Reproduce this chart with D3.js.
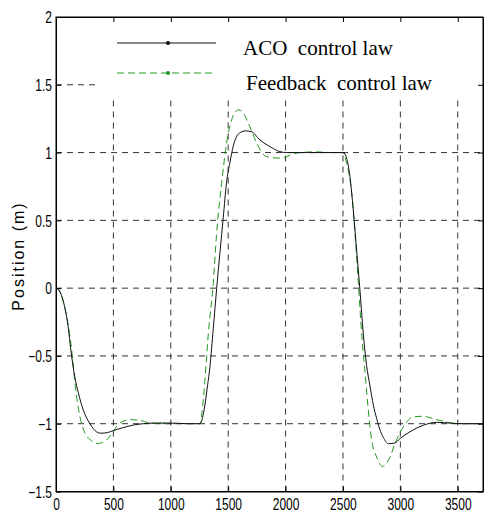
<!DOCTYPE html>
<html>
<head>
<meta charset="utf-8">
<script src="https://cdn.jsdelivr.net/npm/d3@7"></script>
<style>
  body { margin: 0; background: #fff; }
  svg { display: block; }
</style>
</head>
<body>
<div id="chart"></div>
<script>
// time axis (samples) and responses
const acoTime = [0, 30, 64, 100, 136, 165, 194, 238, 296, 354, 390, 450, 500, 580, 673, 760, 850, 1000, 1150, 1254,
  1290, 1320, 1341, 1370, 1400, 1429, 1457, 1486, 1516, 1545, 1574, 1610, 1650, 1700, 1777, 1864, 1951, 2009,
  2200, 2400, 2502, 2532, 2561, 2590, 2619, 2648, 2677, 2706, 2735, 2764, 2793, 2820, 2851, 2895, 2953, 2996,
  3083, 3199, 3316, 3432, 3550, 3720];
const acoPos = [0, -0.02, -0.1, -0.25, -0.5, -0.66, -0.77, -0.9, -1.0, -1.06, -1.07, -1.065, -1.05, -1.03, -1.01,
  -1.0, -0.995, -0.995, -1.0, -1.0,
  -0.9, -0.72, -0.58, -0.3, 0.0, 0.27, 0.52, 0.78, 0.93, 1.05, 1.12, 1.15, 1.16, 1.155, 1.093, 1.044, 1.007, 1.0,
  1.0, 1.0, 1.0, 0.958, 0.822, 0.576, 0.28, -0.015, -0.335, -0.57, -0.72, -0.86, -0.96, -1.04, -1.10, -1.147,
  -1.142, -1.11, -1.06, -1.012, -0.99, -0.995, -1.0, -1.0];

const fbTime = [0, 30, 93, 137, 165, 209, 253, 300, 354, 400, 441, 490, 528, 590, 645, 732, 819, 950, 1100, 1254,
  1280, 1300, 1327, 1370, 1399, 1443, 1486, 1530, 1560, 1595, 1632, 1690, 1748, 1835, 1966, 2050, 2125, 2270,
  2400, 2500, 2532, 2576, 2605, 2634, 2663, 2692, 2721, 2750, 2793, 2845, 2895, 2967, 3025, 3112, 3199, 3286,
  3373, 3490, 3720];
const fbPos = [0, -0.02, -0.21, -0.46, -0.70, -0.95, -1.07, -1.12, -1.147, -1.14, -1.12, -1.07, -1.02, -0.98,
  -0.97, -0.975, -0.995, -1.0, -1.0, -1.0,
  -0.85, -0.65, -0.335, 0.035, 0.40, 0.773, 1.07, 1.24, 1.30, 1.315, 1.29, 1.19, 1.07, 0.97, 0.958, 0.985, 1.0,
  1.005, 1.0, 1.0, 0.92, 0.70, 0.40, 0.035, -0.335, -0.62, -0.90, -1.12, -1.245, -1.315, -1.27, -1.12, -1.024,
  -0.95, -0.945, -0.963, -0.982, -1.0, -1.0];

const xTicks = [0, 500, 1000, 1500, 2000, 2500, 3000, 3500];
const yTicks = [-1.5, -1, -0.5, 0, 0.5, 1, 1.5, 2];
const legendLabels = ["ACO  control law", "Feedback  control law"];
const yLabel = "Position (m)";

function plotPosition(containerId = "chart") {
  d3.select(`#${containerId}`).selectAll("*").remove();

  const margin = {top: 17, right: 1, bottom: 24.5, left: 56};
  const width = 484 - margin.left - margin.right;
  const height = 516 - margin.top - margin.bottom;

  const svg = d3.select(`#${containerId}`)
    .append("svg")
    .attr("width", 484)
    .attr("height", 516)
    .append("g")
    .attr("transform", `translate(${margin.left},${margin.top})`);

  const x = d3.scaleLinear().domain([0, 3720]).range([0, width]);
  const y = d3.scaleLinear().domain([-1.5, 2]).range([height, 0]);

  // dashed grid (inner lines only)
  const grid = svg.append("g").attr("stroke", "#333").attr("stroke-width", 1)
    .attr("stroke-dasharray", "6,5");
  grid.selectAll(".vg").data(xTicks.filter(d => d > 0))
    .join("line")
    .attr("x1", d => x(d)).attr("x2", d => x(d))
    .attr("y1", height).attr("y2", 0);
  grid.selectAll(".hg").data(yTicks.filter(d => d > -1.5 && d < 2))
    .join("line")
    .attr("x1", 0).attr("x2", width)
    .attr("y1", d => y(d)).attr("y2", d => y(d));

  const line = d3.line()
    .x(d => x(d[0]))
    .y(d => y(d[1]))
    .curve(d3.curveMonotoneX);

  svg.append("path")
    .datum(d3.zip(fbTime, fbPos))
    .attr("fill", "none")
    .attr("stroke", "#229922")
    .attr("stroke-width", 1)
    .attr("stroke-dasharray", "7,4")
    .attr("d", line);

  svg.append("path")
    .datum(d3.zip(acoTime, acoPos))
    .attr("fill", "none")
    .attr("stroke", "#111")
    .attr("stroke-width", 1)
    .attr("d", line);

  // legend box (white, hides the grid behind it)
  const lg = svg.append("g").attr("transform", `translate(${97 - margin.left},1)`);
  lg.append("rect")
    .attr("width", width - (97 - margin.left))
    .attr("height", 79)
    .attr("fill", "#fff");
  const legendStyles = [
    {stroke: "#111", dash: null},
    {stroke: "#229922", dash: "7,4"}
  ];
  legendLabels.forEach((lab, i) => {
    const yy = 25 + i * 30;
    lg.append("line")
      .attr("x1", 20).attr("x2", 119)
      .attr("y1", yy).attr("y2", yy)
      .attr("stroke", legendStyles[i].stroke)
      .attr("stroke-dasharray", legendStyles[i].dash);
    lg.append("circle")
      .attr("cx", 71).attr("cy", yy).attr("r", 2)
      .attr("fill", legendStyles[i].stroke);
    lg.append("text")
      .attr("x", 146 + i * 3)
      .attr("y", 37 + i * 35)
      .attr("font-family", "'Liberation Serif', 'Times New Roman', serif")
      .attr("font-size", 21)
      .style("white-space", "pre")
      .attr("fill", "#000")
      .text(lab);
  });

  // axes
  const fmt = d3.format("");
  const xAxis = svg.append("g")
    .attr("transform", `translate(0,${height})`)
    .call(d3.axisBottom(x).tickValues(xTicks).tickSize(-5).tickSizeOuter(0).tickPadding(7).tickFormat(fmt));
  const yAxis = svg.append("g")
    .call(d3.axisLeft(y).tickValues(yTicks).tickSize(-5).tickSizeOuter(0).tickPadding(5).tickFormat(fmt));
  svg.append("g")
    .call(d3.axisTop(x).tickValues(xTicks).tickSize(-5).tickSizeOuter(0).tickFormat(""));
  svg.append("g")
    .attr("transform", `translate(${width},0)`)
    .call(d3.axisRight(y).tickValues(yTicks).tickSize(-5).tickSizeOuter(0).tickFormat(""));

  [xAxis, yAxis].forEach(ax => {
    ax.selectAll("text")
      .attr("font-family", "'Liberation Sans', Arial, sans-serif")
      .attr("font-size", 16)
      .attr("fill", "#000")
      .attr("transform", "scale(0.75,1)");
  });
  yAxis.selectAll("text").attr("x", -5.3).attr("dy", "0.36em");
  svg.selectAll(".domain").attr("stroke", "#000");
  svg.selectAll(".tick line").attr("stroke", "#000");

  // frame
  svg.append("rect")
    .attr("width", width).attr("height", height)
    .attr("fill", "none").attr("stroke", "#000").attr("stroke-width", 1);

  // y label
  svg.append("text")
    .attr("transform", `translate(${24 - margin.left},${256 - margin.top}) rotate(-90)`)
    .attr("text-anchor", "middle")
    .attr("font-family", "'Liberation Sans', Arial, sans-serif")
    .attr("font-size", 16)
    .attr("letter-spacing", 2)
    .attr("fill", "#000")
    .text(yLabel);
}

plotPosition();
</script>
</body>
</html>
